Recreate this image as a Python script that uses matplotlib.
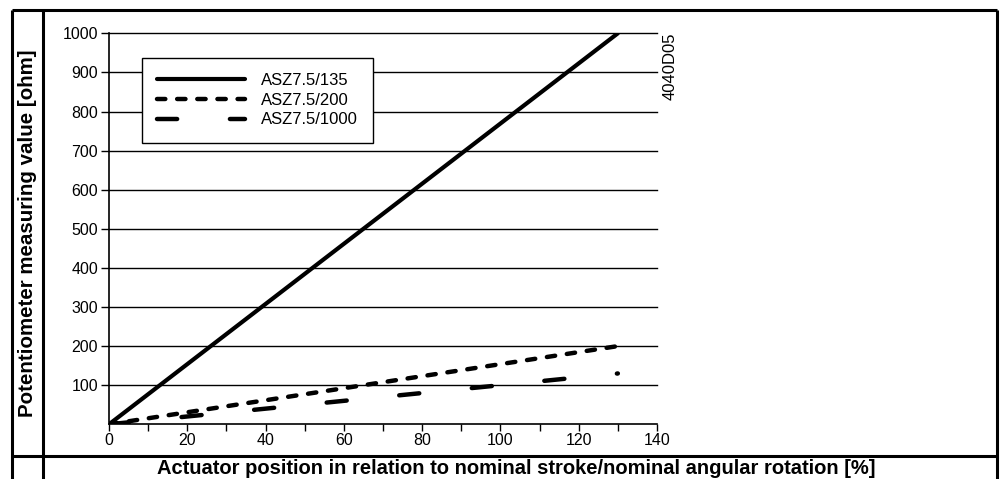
import matplotlib
matplotlib.use("Agg")
import matplotlib.pyplot as plt
from matplotlib.lines import Line2D

plt.rcParams['font.family'] = ['Liberation Sans', 'DejaVu Sans']
plt.rcParams['lines.scale_dashes'] = False

# data
position = [0, 130]          # actuator position [%]
asz_135 = [0, 1000]          # ohm
asz_200 = [0, 200]
asz_1000 = [0, 130]
labels = ['ASZ7.5/135', 'ASZ7.5/200', 'ASZ7.5/1000']
yticks = list(range(100, 1001, 100))
xticks = list(range(0, 141, 20))
xminor = list(range(10, 140, 20))

W, H = 1004, 479
fig = plt.figure(figsize=(W / 100, H / 100), dpi=100)

# axes placed in pixel terms of the reference
ax_l, ax_r, ax_t, ax_b = 109, 657, 33.3, 424.3
ax = fig.add_axes([ax_l / W, 1 - ax_b / H, (ax_r - ax_l) / W, (ax_b - ax_t) / H])
ax.set_xlim(0, 140)
ax.set_ylim(0, 1000)

for y in yticks:
    ax.axhline(y, color='black', lw=1.0, zorder=1, clip_on=False)

ax.plot(position, asz_135, color='black', lw=3.0, solid_capstyle='round', label=labels[0], zorder=3)
ax.plot(position, asz_200, color='black', lw=3.2, linestyle=(0, (6.0, 8.5)),
        dash_capstyle='round', label=labels[1], zorder=3)
ax.plot(position, asz_1000, color='black', lw=3.2, linestyle=(0, (14.5, 38.0)),
        dash_capstyle='round', label=labels[2], zorder=3)

ax.spines['top'].set_visible(False)
ax.spines['right'].set_visible(False)
ax.spines['left'].set_linewidth(1.2)
ax.spines['bottom'].set_linewidth(1.2)
ax.set_yticks(yticks)
ax.set_xticks(xticks)
ax.set_xticks(xminor, minor=True)
ax.tick_params(axis='y', direction='out', length=6, width=1.0, labelsize=11.5, pad=2)
ax.tick_params(axis='x', which='both', direction='out', length=5, width=1.0, labelsize=11.5, pad=1)

leg = ax.legend(loc='upper left', bbox_to_anchor=(0.0597, 0.9376), borderaxespad=0,
                fontsize=12, handlelength=5.3, handletextpad=0.95, labelspacing=0.28,
                borderpad=0.92, fancybox=False, framealpha=1, edgecolor='black')
leg.get_frame().set_linewidth(1.0)
leg.set_zorder(5)

fig.text(670 / W, 1 - 33 / H, '4040D05', rotation=90, ha='center', va='top', fontsize=12)

# table frame around the chart
frame = dict(color='black', lw=2.2, solid_capstyle='butt')
fig.add_artist(Line2D([12.3 / W, 12.3 / W], [0, 1 - 10 / H], transform=fig.transFigure, **frame))
fig.add_artist(Line2D([996.7 / W, 996.7 / W], [0, 1 - 10 / H], transform=fig.transFigure, **frame))
fig.add_artist(Line2D([12.3 / W, 996.7 / W], [1 - 10 / H, 1 - 10 / H], transform=fig.transFigure, **frame))
fig.add_artist(Line2D([43.3 / W, 43.3 / W], [0, 1 - 10 / H], transform=fig.transFigure, **frame))
fig.add_artist(Line2D([12.3 / W, 996.7 / W], [1 - 455.7 / H, 1 - 455.7 / H], transform=fig.transFigure, **frame))

fig.text(27.5 / W, 1 - 233 / H, 'Potentiometer measuring value [ohm]', rotation=90,
         ha='center', va='center', fontsize=14.8, fontweight='bold')
fig.text(516 / W, 1 - 474.5 / H,
         'Actuator position in relation to nominal stroke/nominal angular rotation [%]',
         ha='center', va='baseline', fontsize=14.5, fontweight='bold')

fig.savefig('out.png', dpi=100)
